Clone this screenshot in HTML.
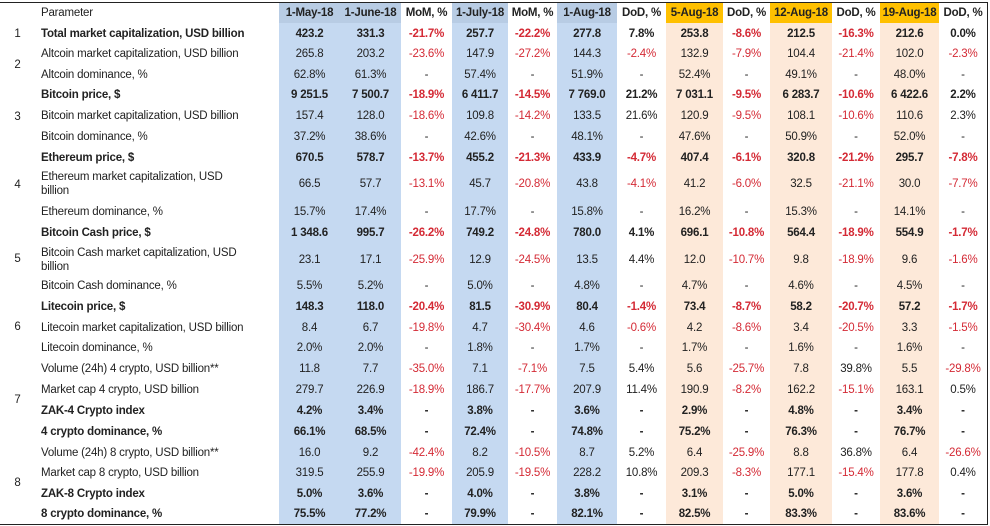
<!DOCTYPE html>
<html><head><meta charset="utf-8"><style>
html,body{margin:0;padding:0;background:#fff;width:990px;height:526px;overflow:hidden}
#t{position:relative;width:990px;height:526px;font-family:"Liberation Sans",Arial,sans-serif;font-size:11.5px;color:#222}
.c{position:absolute;box-sizing:border-box;border-right:1px solid #222;border-bottom:1px solid #222;display:flex;align-items:center;justify-content:center;white-space:nowrap;overflow:hidden;letter-spacing:-0.2px}
.p{justify-content:flex-start;padding-left:6px;line-height:14px;white-space:normal}
.b{font-weight:bold}
.r{color:#d42a35}
</style></head><body>
<div id="t"></div>
<script>
const colX=[0,35,279,340,401,452,508,557,617,666,723,770,832,880,939,987];
const rowY=[3,23,44,64,85,105,126,148,167,201,222,243,276,296,317,338,358,379,400,421,442,463,483,504,524];
const headers=["Parameter","1-May-18","1-June-18","MoM, %","1-July-18","MoM, %","1-Aug-18","DoD, %","5-Aug-18","DoD, %","12-Aug-18","DoD, %","19-Aug-18","DoD, %"];
const colKind=["p","blue","blue","chg","blue","chg","blue","chg","or","chg","or","chg","or","chg"];
const groups=[[1,1,1],[2,2,3],[3,4,6],[4,7,9],[5,10,12],[6,13,15],[7,16,19],[8,20,23]];
const params=["Total market capitalization, USD billion","Altcoin market capitalization, USD billion","Altcoin dominance, %","Bitcoin price, $","Bitcoin market capitalization, USD billion","Bitcoin dominance, %","Ethereum price, $","Ethereum market capitalization, USD<br>billion","Ethereum dominance, %","Bitcoin Cash price, $","Bitcoin Cash market capitalization, USD<br>billion","Bitcoin Cash dominance, %","Litecoin price, $","Litecoin market capitalization, USD billion","Litecoin dominance, %","Volume (24h) 4 crypto, USD billion**","Market cap 4 crypto, USD billion","ZAK-4 Crypto index","4 crypto dominance, %","Volume (24h) 8 crypto, USD billion**","Market cap 8 crypto, USD billion","ZAK-8 Crypto index","8 crypto dominance, %"];
const boldRows=[1,0,0,1,0,0,1,0,0,1,0,0,1,0,0,0,0,1,1,0,0,1,1];
const values=[
["423.2","331.3","-21.7%","257.7","-22.2%","277.8","7.8%","253.8","-8.6%","212.5","-16.3%","212.6","0.0%"],
["265.8","203.2","-23.6%","147.9","-27.2%","144.3","-2.4%","132.9","-7.9%","104.4","-21.4%","102.0","-2.3%"],
["62.8%","61.3%","-","57.4%","-","51.9%","-","52.4%","-","49.1%","-","48.0%","-"],
["9 251.5","7 500.7","-18.9%","6 411.7","-14.5%","7 769.0","21.2%","7 031.1","-9.5%","6 283.7","-10.6%","6 422.6","2.2%"],
["157.4","128.0","-18.6%","109.8","-14.2%","133.5","21.6%","120.9","-9.5%","108.1","-10.6%","110.6","2.3%"],
["37.2%","38.6%","-","42.6%","-","48.1%","-","47.6%","-","50.9%","-","52.0%","-"],
["670.5","578.7","-13.7%","455.2","-21.3%","433.9","-4.7%","407.4","-6.1%","320.8","-21.2%","295.7","-7.8%"],
["66.5","57.7","-13.1%","45.7","-20.8%","43.8","-4.1%","41.2","-6.0%","32.5","-21.1%","30.0","-7.7%"],
["15.7%","17.4%","-","17.7%","-","15.8%","-","16.2%","-","15.3%","-","14.1%","-"],
["1 348.6","995.7","-26.2%","749.2","-24.8%","780.0","4.1%","696.1","-10.8%","564.4","-18.9%","554.9","-1.7%"],
["23.1","17.1","-25.9%","12.9","-24.5%","13.5","4.4%","12.0","-10.7%","9.8","-18.9%","9.6","-1.6%"],
["5.5%","5.2%","-","5.0%","-","4.8%","-","4.7%","-","4.6%","-","4.5%","-"],
["148.3","118.0","-20.4%","81.5","-30.9%","80.4","-1.4%","73.4","-8.7%","58.2","-20.7%","57.2","-1.7%"],
["8.4","6.7","-19.8%","4.7","-30.4%","4.6","-0.6%","4.2","-8.6%","3.4","-20.5%","3.3","-1.5%"],
["2.0%","2.0%","-","1.8%","-","1.7%","-","1.7%","-","1.6%","-","1.6%","-"],
["11.8","7.7","-35.0%","7.1","-7.1%","7.5","5.4%","5.6","-25.7%","7.8","39.8%","5.5","-29.8%"],
["279.7","226.9","-18.9%","186.7","-17.7%","207.9","11.4%","190.9","-8.2%","162.2","-15.1%","163.1","0.5%"],
["4.2%","3.4%","-","3.8%","-","3.6%","-","2.9%","-","4.8%","-","3.4%","-"],
["66.1%","68.5%","-","72.4%","-","74.8%","-","75.2%","-","76.3%","-","76.7%","-"],
["16.0","9.2","-42.4%","8.2","-10.5%","8.7","5.2%","6.4","-25.9%","8.8","36.8%","6.4","-26.6%"],
["319.5","255.9","-19.9%","205.9","-19.5%","228.2","10.8%","209.3","-8.3%","177.1","-15.4%","177.8","0.4%"],
["5.0%","3.6%","-","4.0%","-","3.8%","-","3.1%","-","5.0%","-","3.6%","-"],
["75.5%","77.2%","-","79.9%","-","82.1%","-","82.5%","-","83.3%","-","83.6%","-"]];
const T=document.getElementById('t');
function cell(x0,x1,y0,y1,html,cls,bg,name){
  const d=document.createElement('div');
  d.className='c '+(cls||'');
  d.style.left=x0+'px';d.style.top=y0+'px';
  d.style.width=(x1-x0+1)+'px';d.style.height=(y1-y0+1)+'px';
  if(bg)d.style.background=bg;
  d.innerHTML=html;
  
  
  T.appendChild(d);return d;
}
const topBorder=document.createElement('div');
topBorder.style.cssText='position:absolute;left:0;top:'+(rowY[0]-1)+'px;width:988px;height:1px;background:#222';


T.appendChild(topBorder);
const leftBorder=document.createElement('div');
leftBorder.style.cssText='position:absolute;left:0;top:'+(rowY[0]-1)+'px;width:1px;height:'+(rowY[rowY.length-1]-rowY[0]+2)+'px;background:#222';


T.appendChild(leftBorder);
cell(colX[0],colX[1],rowY[0],rowY[1],'','', '#fff','header-index');
headers.forEach((h,i)=>{
  const k=colKind[i];
  const bg=k==='blue'?'#b8cce4':k==='or'?'#ffc000':'#fff';
  cell(colX[i+1],colX[i+2],rowY[0],rowY[1],h,(i===0?'p':'b'),bg,'header-'+h.toLowerCase().replace(/[^a-z0-9]+/g,'-'));
});
groups.forEach(g=>{
  cell(colX[0],colX[1],rowY[g[1]],rowY[g[2]+1],String(g[0]),'', '#fff','group-number-'+g[0]);
});
params.forEach((p,r)=>{
  const y0=rowY[r+1],y1=rowY[r+2];
  const b=boldRows[r]?' b':'';
  cell(colX[1],colX[2],y0,y1,p,'p'+b,'#fff','param-row-'+(r+1));
  values[r].forEach((v,j)=>{
    const k=colKind[j+1];
    const bg=k==='blue'?'#c5d9f1':k==='or'?'#fde9d9':'#fff';
    const red=(k==='chg'&&v.startsWith('-')&&v.length>1)?' r':'';
    cell(colX[j+2],colX[j+3],y0,y1,v,b+red,bg,'value-r'+(r+1)+'-c'+(j+1));
  });
});
</script>
</body></html>
